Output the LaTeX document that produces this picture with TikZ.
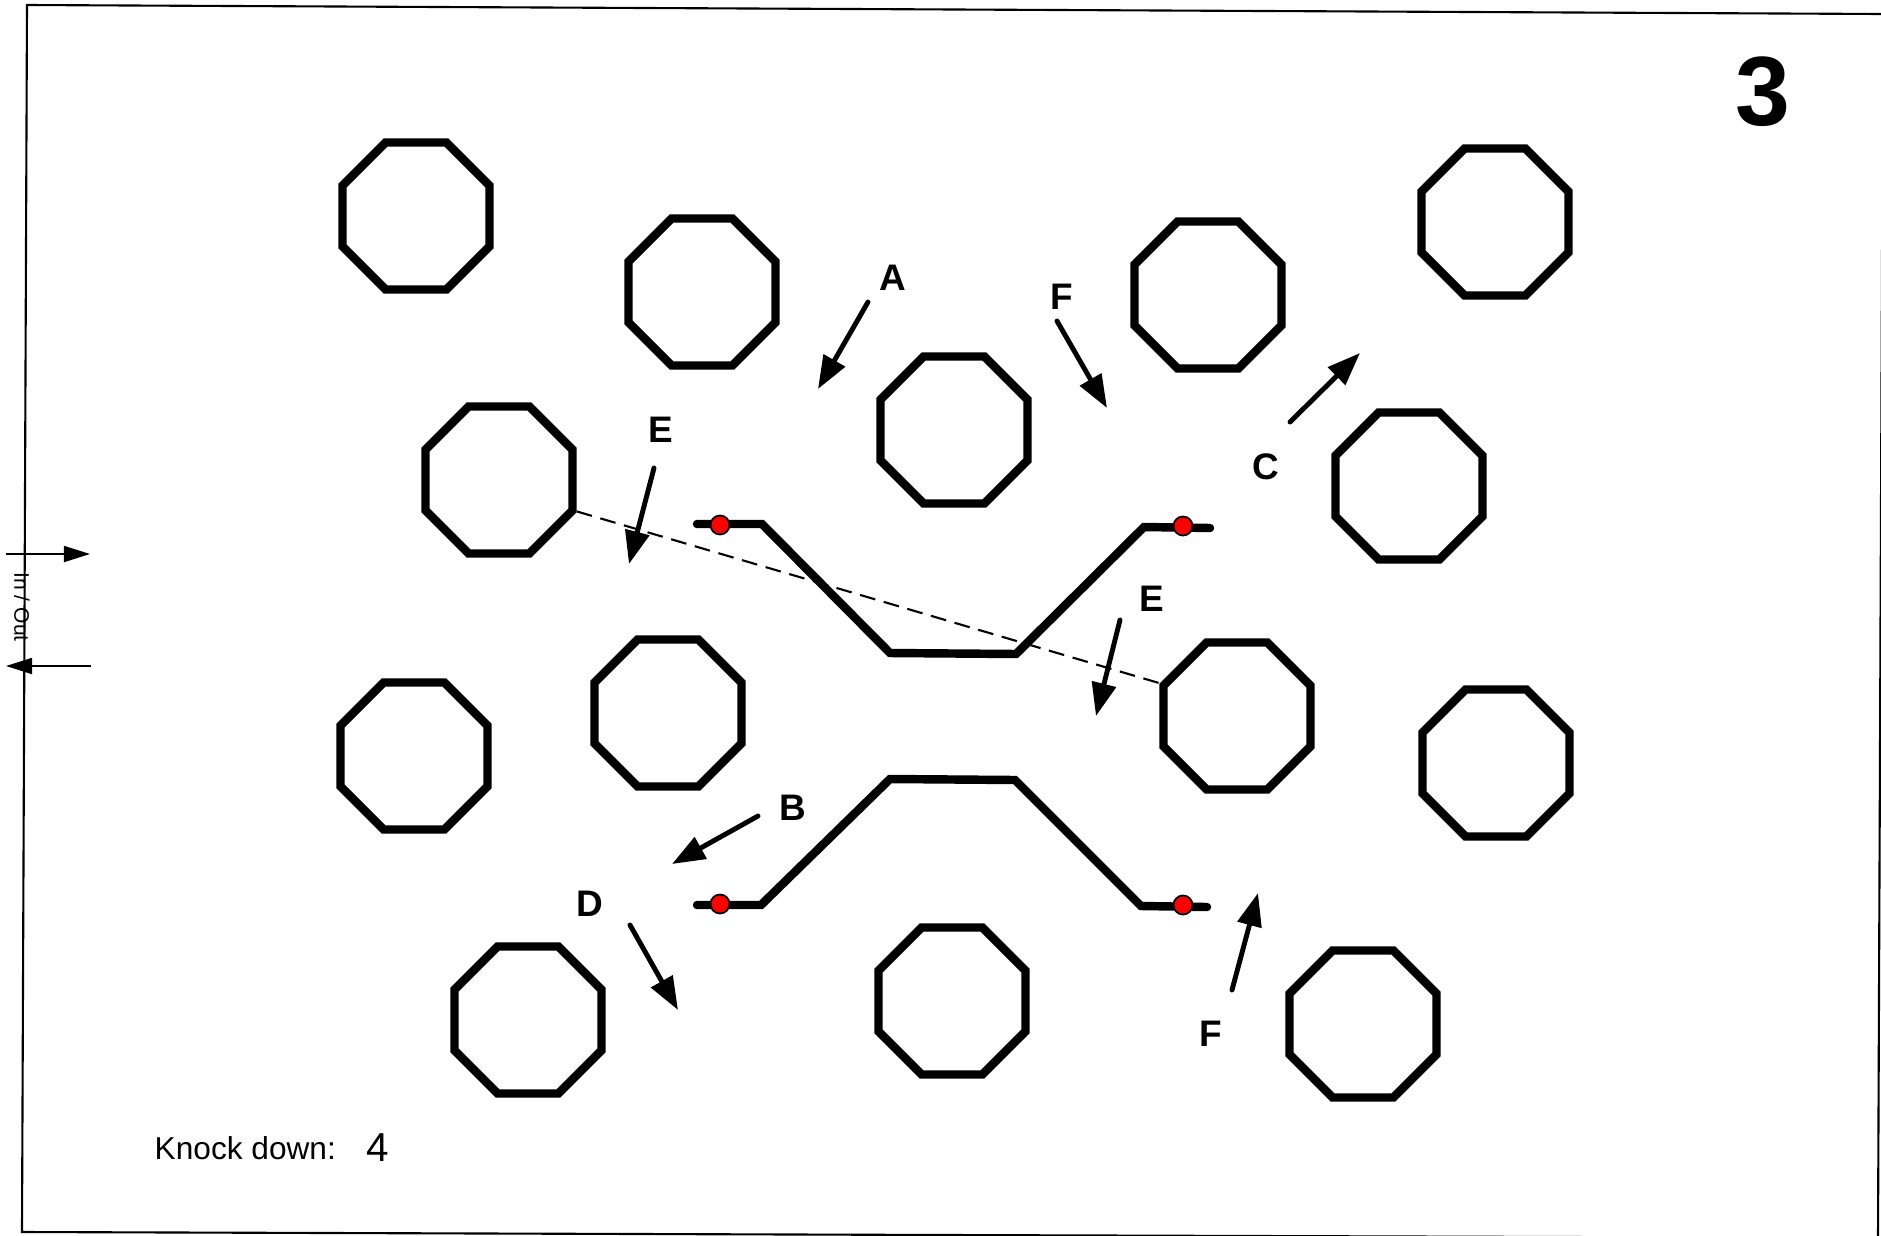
\documentclass[tikz,border=0pt]{standalone}
\usepackage{fontspec}
\setmainfont{Liberation Sans}
\usetikzlibrary{shapes.geometric,arrows.meta}
\tikzset{
	cone/.style={draw,regular polygon,regular polygon sides=8,minimum size=1.59cm,inner sep=0pt,line width=2.4pt},
	lane/.style={line width=2.4pt,line cap=round},
	pin/.style={circle,draw,fill=red,inner sep=0pt,minimum size=0.19cm,line width=0.5pt},
	move/.style={-{Triangle[length=0.33cm,width=0.24cm]},line width=1.4pt,line cap=round},
	tag/.style={font=\fontsize{10.5}{12}\selectfont\bfseries}
}
\begin{document}
\begin{tikzpicture}[x=0.01cm,y=-0.01cm]
	\useasboundingbox (0,0) rectangle (1881,1236);
	% frame
	\draw[line width=0.6pt] (27,5) -- (1883,14) -- (1878,1238) -- (22,1232) -- cycle;
	% cones
	\foreach \n/\x/\y in {1/416/216, 2/702/292, 3/954/430, 4/1208/295, 5/1495/222,
		6/499/480, 7/1409/486, 8/414/756, 9/668/713, 10/1237/716, 11/1496/763,
		12/528/1020, 13/952/1001, 14/1363/1024}
		\node[cone] (c\n) at (\x,\y) {};
	\draw[dashed,dash pattern=on 4.5pt off 2.5pt,line width=0.6pt] (c6.-22.5) -- (c10.157.5);
	% lanes
	\draw[lane] (697,524) -- (762,524) -- (890,653) -- (1016,654) -- (1144,527) -- (1210,528);
	\draw[lane] (697,905) -- (761,905) -- (890,779) -- (1015,780) -- (1141,906) -- (1207,907);
	\node[pin] (p1) at (720,525) {};
	\node[pin] (p2) at (1183,526) {};
	\node[pin] (p3) at (720,904) {};
	\node[pin] (p4) at (1183,905) {};
	% moves
	\node[tag] (lA) at (893,278) {A};
	\draw[move] (868,302) -- (818,389);
	\node[tag] (lF1) at (1062,297) {F};
	\draw[move] (1057,321) -- (1107,408);
	\node[tag] (lC) at (1266,467) {C};
	\draw[move] (1290,422) -- (1360,353);
	\node[tag] (lE1) at (661,430) {E};
	\draw[move] (654,468) -- (629,564);
	\node[tag] (lE2) at (1152,599) {E};
	\draw[move] (1120,620) -- (1096,716);
	\node[tag] (lB) at (793,808) {B};
	\draw[move] (758,816) -- (672,864);
	\node[tag] (lD) at (590,904) {D};
	\draw[move] (630,925) -- (678,1010);
	\node[tag] (lF2) at (1211,1034) {F};
	\draw[move] (1232,990) -- (1258,893);
	% in / out
	\draw[-{Triangle[length=0.26cm,width=0.16cm]},line width=0.5pt] (6,554) -- (90,554);
	\draw[-{Triangle[length=0.26cm,width=0.16cm]},line width=0.5pt] (91,666) -- (6,666);
	\node[rotate=-90,font=\fontsize{6}{7}\selectfont] (io) at (22,607) {In / Out};
	% texts
	\node[font=\fontsize{28}{30}\selectfont\bfseries] (num) at (1763,92) {3};
	\node[anchor=base west,inner sep=0pt,font=\fontsize{9}{11}\selectfont] (kd) at (154,1159) {Knock down:};
	\node[font=\fontsize{11.5}{13}\selectfont] (kn) at (378,1148) {4};
\end{tikzpicture}
\end{document}
